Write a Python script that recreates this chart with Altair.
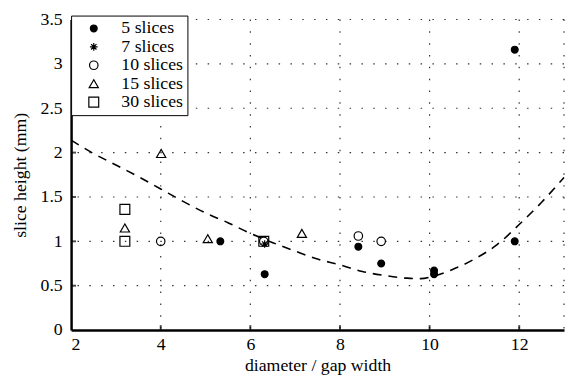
import altair as alt
import pandas as pd

# dashed fit curve
curve_x = [2.0, 2.5, 3.0, 3.5, 4.0, 4.5, 5.0, 5.5, 6.0, 6.5, 7.0, 7.5, 8.0, 8.5, 9.0, 9.5, 9.8, 10.1, 10.5, 11.0, 11.5, 12.0, 12.5, 13.0]
curve_y = [2.14, 1.99, 1.86, 1.73, 1.59, 1.45, 1.32, 1.21, 1.09, 0.985, 0.89, 0.80, 0.735, 0.66, 0.615, 0.585, 0.58, 0.61, 0.68, 0.80, 0.96, 1.19, 1.44, 1.72]

series = ["5 slices", "7 slices", "10 slices", "15 slices", "30 slices"]
s5_x = [5.33, 6.32, 8.41, 8.92, 10.1, 10.1, 11.9, 11.9]
s5_y = [1.0, 0.63, 0.94, 0.75, 0.67, 0.63, 3.16, 1.0]
s7_x = [6.32]
s7_y = [0.97]
s10_x = [4.0, 6.3, 8.41, 8.92]
s10_y = [1.0, 1.0, 1.06, 1.0]
s15_x = [3.2, 4.01, 5.05, 7.15]
s15_y = [1.15, 1.99, 1.03, 1.09]
s30_x = [3.2, 3.2, 6.3]
s30_y = [1.36, 1.0, 1.0]

x_ticks = [2, 4, 6, 8, 10, 12]
y_ticks = [0, 0.5, 1, 1.5, 2, 2.5, 3, 3.5]
x_grid = [4, 6, 8, 10, 12, 13]
y_grid = [0.5, 1, 1.5, 2, 2.5, 3, 3.5]

asterisk = "M-1,0L1,0M0,-1L0,1M-0.7,-0.7L0.7,0.7M-0.7,0.7L0.7,-0.7"
shapes = ["circle", asterisk, "circle", "triangle-up", "square"]
fills = ["black", "black", "transparent", "transparent", "transparent"]
strokes = ["black"] * 5
sizes = [48, 100, 95, 150, 68]

rows = []
for name, xs, ys in [("5 slices", s5_x, s5_y), ("7 slices", s7_x, s7_y),
                     ("10 slices", s10_x, s10_y), ("15 slices", s15_x, s15_y),
                     ("30 slices", s30_x, s30_y)]:
    for a, b in zip(xs, ys):
        rows.append({"x": a, "y": b, "series": name})
pts = pd.DataFrame(rows)
curve = pd.DataFrame({"x": curve_x, "y": curve_y})

FONT = "Liberation Serif"
FS = 18
xscale = alt.Scale(domain=[2, 13], nice=False, zero=False)
yscale = alt.Scale(domain=[0, 3.5], nice=False)
xaxis = alt.Axis(values=x_ticks, title="diameter / gap width", grid=False, tickSize=0,
                 labelPadding=6, titlePadding=3)
yaxis = alt.Axis(values=y_ticks, title="slice height (mm)", grid=False, tickSize=0,
                 format="~g", labelPadding=9, titlePadding=11)


def X(field="x"):
    return alt.X(f"{field}:Q", scale=xscale, axis=xaxis)


def Y(field="y"):
    return alt.Y(f"{field}:Q", scale=yscale, axis=yaxis)


grid_style = dict(color="#333", strokeDash=[1.5, 10.5], strokeWidth=1.2)
vgrid = alt.Chart(pd.DataFrame({"x": x_grid})).mark_rule(**grid_style).encode(x=X())
hgrid = alt.Chart(pd.DataFrame({"y": y_grid})).mark_rule(**grid_style).encode(y=Y())

line = alt.Chart(curve).mark_line(color="black", strokeDash=[9, 7], strokeWidth=1.6,
                                  interpolate="monotone").encode(x=X(), y=Y())

leg = alt.Legend(title=None, orient="none", legendX=0, legendY=-4,
                 fillColor="white", strokeColor="black", padding=4,
                 labelFont=FONT, labelFontSize=FS, labelColor="black",
                 rowPadding=0.7, labelOffset=19, symbolOffset=10,
                 symbolStrokeColor="black", symbolStrokeWidth=1.2, symbolOpacity=1)

points = alt.Chart(pts).mark_point(strokeWidth=1.2, opacity=1, fillOpacity=1).encode(
    x=X(), y=Y(),
    shape=alt.Shape("series:N", scale=alt.Scale(domain=series, range=shapes), legend=leg),
    fill=alt.Fill("series:N", scale=alt.Scale(domain=series, range=fills), legend=leg),
    stroke=alt.Stroke("series:N", scale=alt.Scale(domain=series, range=strokes), legend=leg),
    size=alt.Size("series:N", scale=alt.Scale(domain=series, range=sizes), legend=leg),
)

xt = alt.Chart(pd.DataFrame({"x": x_ticks[1:]})).mark_tick(
    orient="vertical", size=5, thickness=2, yOffset=-2.5, color="black").encode(
    x=X(), y=alt.datum(0))
yt = alt.Chart(pd.DataFrame({"y": y_ticks[1:-1]})).mark_tick(
    orient="horizontal", size=5, thickness=2, xOffset=2.5, color="black").encode(
    y=Y(), x=alt.datum(2))

chart = alt.layer(vgrid, hgrid, line, xt, yt, points).properties(
    width=500, height=315,
    autosize=alt.AutoSizeParams(type="none"),
    padding={"left": 64, "top": 9, "right": 2, "bottom": 50},
).configure_view(strokeWidth=0).configure_axis(
    labelFont=FONT, titleFont=FONT, labelFontSize=FS, titleFontSize=FS,
    titleFontWeight="normal", labelColor="black", titleColor="black",
    domainColor="black", domainWidth=2.5,
)

chart.save("out.html", embed_options={"renderer": "svg", "actions": False})
